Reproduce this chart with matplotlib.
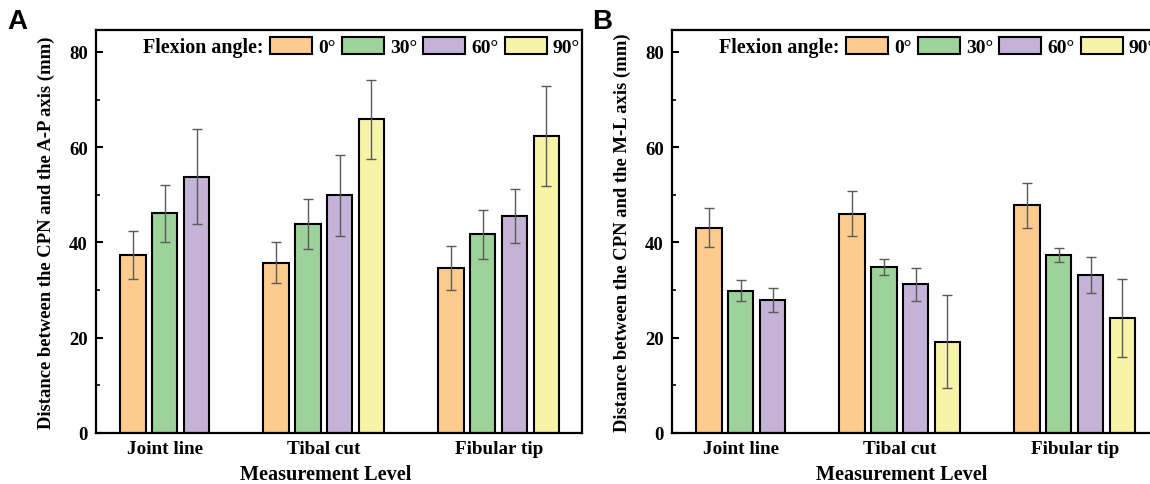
import numpy as np
import matplotlib
matplotlib.use("Agg")
import matplotlib.pyplot as plt
from matplotlib.ticker import MultipleLocator

plt.rcParams["font.family"] = ["Liberation Serif", "DejaVu Serif"]
plt.rcParams["font.weight"] = "bold"

levels = ["Joint line", "Tibal cut", "Fibular tip"]
angles = ["0°", "30°", "60°", "90°"]
colors = ["#FDCB8E", "#9DD29B", "#C4B3D7", "#F8F4A7"]

# rows = flexion angle, columns = measurement level (nan = not measured)
ap_mean = [
    [37.4, 35.7, 34.6],
    [46.1, 43.9, 41.7],
    [53.8, 49.9, 45.6],
    [np.nan, 65.9, 62.4],
]
ap_sd = [
    [5.0, 4.3, 4.6],
    [5.9, 5.3, 5.2],
    [10.0, 8.5, 5.7],
    [np.nan, 8.3, 10.5],
]
ml_mean = [
    [43.1, 46.0, 47.8],
    [29.9, 34.9, 37.4],
    [27.9, 31.2, 33.2],
    [np.nan, 19.2, 24.2],
]
ml_sd = [
    [4.1, 4.7, 4.7],
    [2.2, 1.7, 1.5],
    [2.5, 3.5, 3.8],
    [np.nan, 9.7, 8.2],
]


def layout(means):
    # bars sit next to each other, missing bars are dropped, gap between groups
    means = np.array(means, dtype=float)
    xs = np.full(means.shape, np.nan)
    centers = []
    pos = 0.0
    for j in range(means.shape[1]):
        present = [i for i in range(means.shape[0]) if not np.isnan(means[i, j])]
        for k, i in enumerate(present):
            xs[i, j] = pos + k
        centers.append(pos + (len(present) - 1) / 2)
        pos += len(present) + 1.5
    return xs, centers


def draw_panel(ax, means, sds, ylabel):
    xs, centers = layout(means)
    handles = []
    for i, ang in enumerate(angles):
        m = np.array(means[i], dtype=float)
        s = np.array(sds[i], dtype=float)
        ok = ~np.isnan(m)
        b = ax.bar(xs[i][ok], m[ok], width=0.8, color=colors[i],
                   edgecolor="black", linewidth=1.5, label=ang, zorder=2)
        ax.errorbar(xs[i][ok], m[ok], yerr=s[ok], fmt="none", ecolor="#5a5a5a",
                    elinewidth=1.0, capsize=3.5, capthick=1.0, zorder=3)
        handles.append(b)

    ax.set_xlim(-1.16, 14.12)
    ax.set_ylim(0, 84.6)
    ax.set_xticks(centers)
    ax.set_xticklabels(levels, fontsize=13.8)
    ax.yaxis.set_major_locator(MultipleLocator(20))
    ax.yaxis.set_minor_locator(MultipleLocator(10))
    ax.tick_params(axis="x", length=0, pad=5)
    ax.tick_params(axis="y", which="major", direction="in", length=5, width=1.5,
                   labelsize=13.5, pad=6)
    ax.tick_params(axis="y", which="minor", direction="in", length=3, width=1.2)
    for sp in ax.spines.values():
        sp.set_linewidth(1.6)

    ax.set_ylabel(ylabel, fontsize=13.4, fontweight="bold")
    ax.yaxis.set_label_coords(-0.085, 0.5)
    ax.set_xlabel("Measurement Level", fontsize=14.6, fontweight="bold")
    ax.xaxis.set_label_coords(0.473, -0.077)
    ax.xaxis.label.set_va("top")

    ax.text(0.344, 0.959, "Flexion angle:", transform=ax.transAxes,
            ha="right", va="center", fontsize=14.4, fontweight="bold")
    ax.legend(handles, angles, ncol=4, loc="center left",
              bbox_to_anchor=(0.358, 0.959), frameon=False,
              prop={"weight": "bold", "size": 14},
              handlelength=2.15, handleheight=1.0, handletextpad=0.32,
              columnspacing=0.32, borderpad=0, borderaxespad=0)


fig = plt.figure(figsize=(11.5, 4.85), dpi=100)
ax_a = fig.add_axes([96 / 1150, 51 / 485, 486 / 1150, 403 / 485])
ax_b = fig.add_axes([672 / 1150, 51 / 485, 486 / 1150, 403 / 485])

draw_panel(ax_a, ap_mean, ap_sd, "Distance between the CPN and the A-P axis (mm)")
draw_panel(ax_b, ml_mean, ml_sd, "Distance between the CPN and the M-L axis (mm)")

fig.text(0.006, 0.982, "A", ha="left", va="top", fontsize=20,
         fontweight="bold", family="Liberation Sans")
fig.text(0.515, 0.982, "B", ha="left", va="top", fontsize=20,
         fontweight="bold", family="Liberation Sans")

fig.savefig("out.png", dpi=100)
